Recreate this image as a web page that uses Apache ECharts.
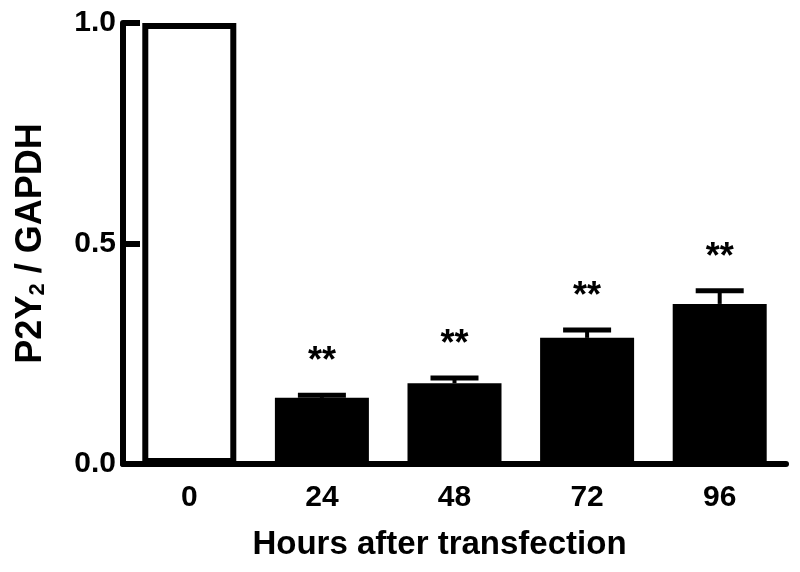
<!DOCTYPE html>
<html>
<head>
<meta charset="utf-8">
<script src="https://cdn.jsdelivr.net/npm/echarts@6/dist/echarts.min.js"></script>
<style>html,body{margin:0;padding:0;background:#fff}#c{width:800px;height:572px}</style>
</head>
<body>
<div id="c"></div>
<script>
const categories = ['0', '24', '48', '72', '96'];
const means = [1.0, 0.150, 0.183, 0.286, 0.363];
const errors = [0, 0.006, 0.012, 0.018, 0.030];
const significance = ['', '**', '**', '**', '**'];
const yTicks = [0, 0.5, 1.0];

const FONT = "'Liberation Sans', Arial, sans-serif";
const chart = echarts.init(document.getElementById('c'), null, {renderer: 'canvas'});

const barData = means.map((v, i) => ({
  value: v,
  itemStyle: i === 0
    ? {color: '#ffffff', borderColor: '#000', borderWidth: 6}
    : {color: '#000', borderColor: '#000', borderWidth: 0}
}));

chart.setOption({
  animation: false,
  backgroundColor: '#fff',
  grid: {left: 123, right: 14, top: 23, bottom: 108, containLabel: false, outerBoundsMode: 'none'},
  xAxis: {
    type: 'category',
    data: categories,
    axisLine: {lineStyle: {color: '#000', width: 6}},
    axisTick: {show: false},
    axisLabel: {color: '#000', fontSize: 30, fontWeight: 'bold', fontFamily: FONT, margin: 19},
    name: 'Hours after transfection',
    nameLocation: 'middle',
    nameGap: 64,
    nameTextStyle: {color: '#000', fontSize: 33, fontWeight: 'bold', fontFamily: FONT, padding: [0, 30, 0, 0]}
  },
  yAxis: {
    type: 'value',
    min: yTicks[0],
    max: yTicks[yTicks.length - 1],
    interval: 0.5,
    splitLine: {show: false},
    axisLine: {show: true, lineStyle: {color: '#000', width: 6}},
    axisTick: {show: true, inside: true, length: 17, lineStyle: {color: '#000', width: 6}},
    axisLabel: {color: '#000', fontSize: 30, fontWeight: 'bold', fontFamily: FONT, margin: 7,
      formatter: v => v.toFixed(1)},
    name: '{a|P2Y}{s|2}{a| / GAPDH}',
    nameLocation: 'middle',
    nameGap: 74,
    nameTextStyle: {
      color: '#000',
      rich: {
        a: {fontSize: 36, fontWeight: 'bold', fontFamily: FONT, lineHeight: 36, verticalAlign: 'top', color: '#000'},
        s: {fontSize: 22, fontWeight: 'bold', fontFamily: FONT, lineHeight: 18, verticalAlign: 'bottom', padding: [26, 0, 0, 0], color: '#000'}
      }
    }
  },
  series: [
    {
      type: 'bar',
      data: barData,
      barWidth: 94,
      z: 3
    },
    {
      type: 'custom',
      z: 4,
      data: means.map((m, i) => [i, m, errors[i]]),
      renderItem: function (params, api) {
        const i = api.value(0), m = api.value(1), e = api.value(2);
        const base = api.coord([i, m]);
        const top = api.coord([i, m + e]);
        const children = [];
        if (e > 0) {
          children.push({type: 'line', shape: {x1: top[0], y1: base[1], x2: top[0], y2: top[1]},
            style: {stroke: '#000', lineWidth: 4}});
          children.push({type: 'line', shape: {x1: top[0] - 24, y1: top[1], x2: top[0] + 24, y2: top[1]},
            style: {stroke: '#000', lineWidth: 5}});
        }
        const sig = significance[i];
        if (sig) {
          children.push({type: 'text', x: top[0], y: top[1] - 33,
            style: {text: sig, fill: '#000', font: 'bold 36px ' + FONT, align: 'center', verticalAlign: 'middle'}});
        }
        return {type: 'group', children: children};
      }
    }
  ]
});
</script>
</body>
</html>
